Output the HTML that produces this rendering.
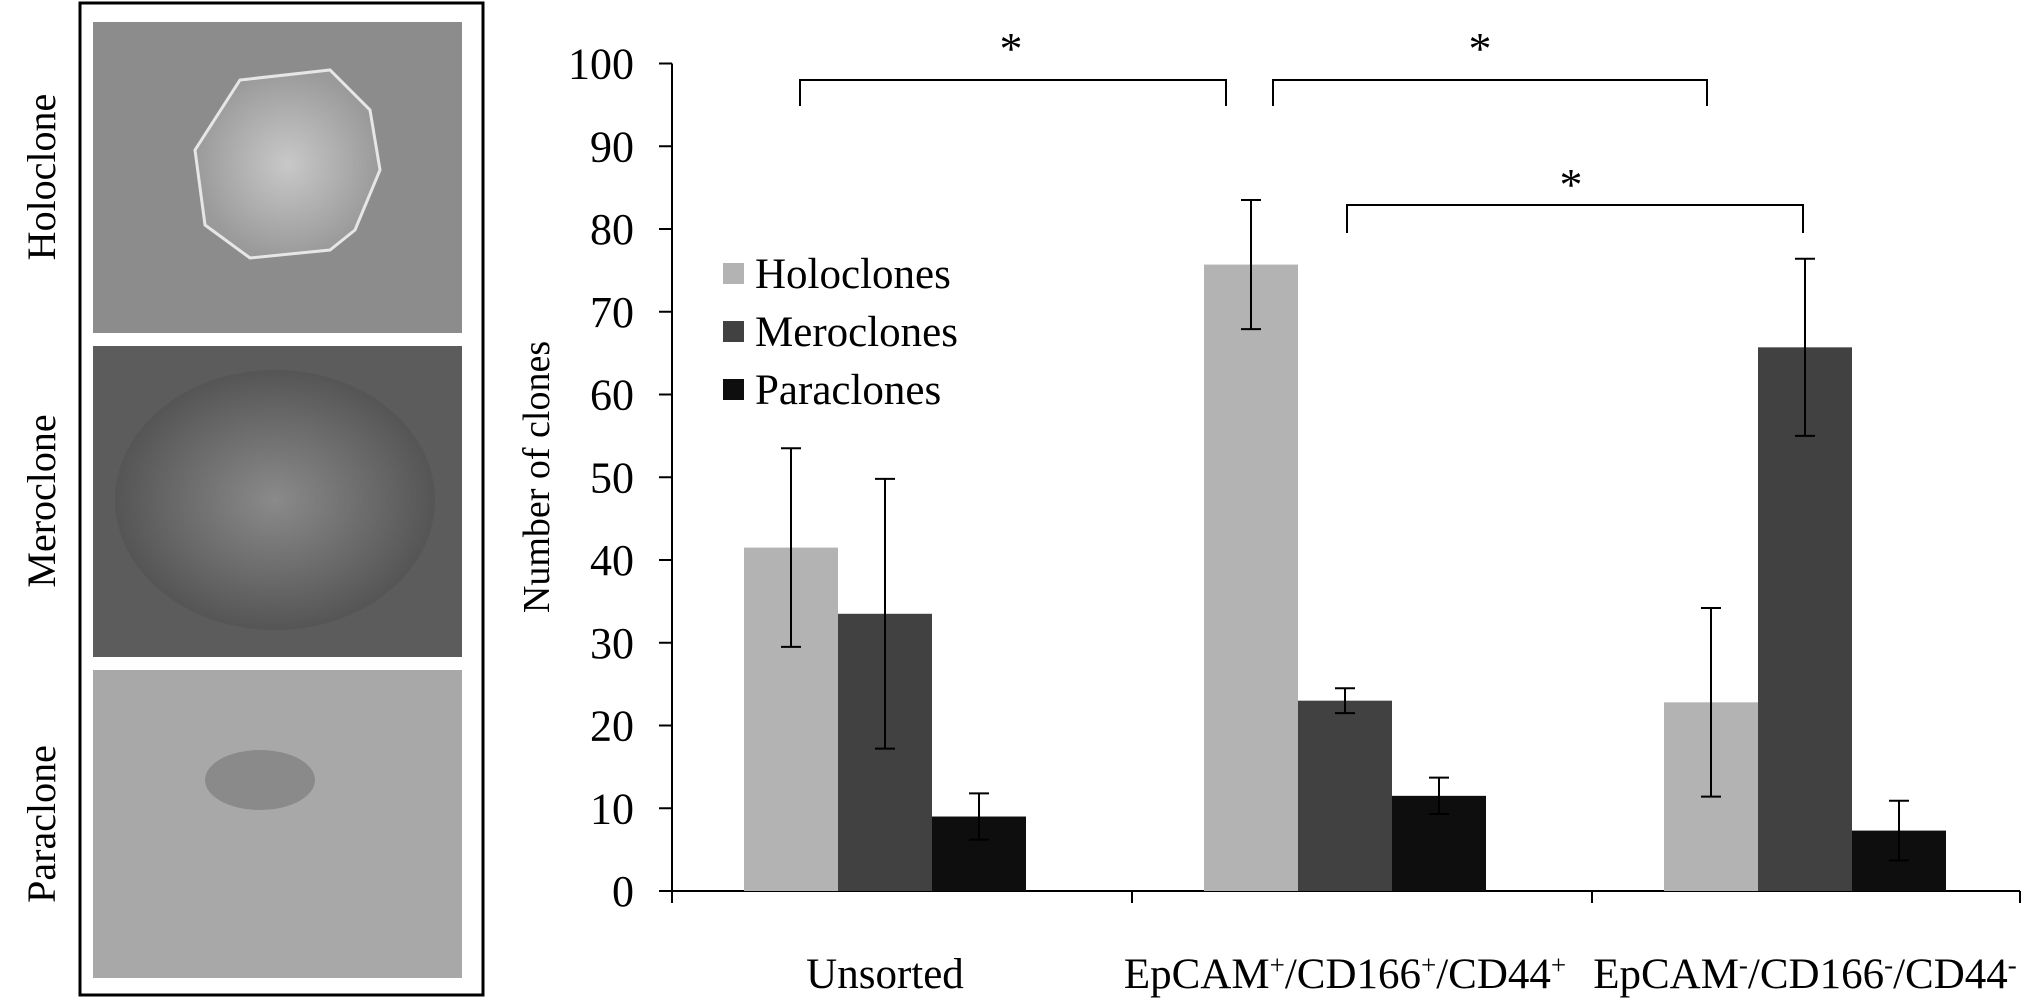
<!DOCTYPE html>
<html><head><meta charset="utf-8"><style>
body{margin:0;background:#fff;}
svg{display:block;font-family:"Liberation Serif",serif;}
</style></head><body>
<svg width="2031" height="1005" viewBox="0 0 2031 1005" xmlns="http://www.w3.org/2000/svg" id="root">
<defs>
<radialGradient id="g1" cx="50%" cy="50%" r="50%"><stop offset="0" stop-color="#c8c8c8"/><stop offset="1" stop-color="#9a9a9a"/></radialGradient>
<radialGradient id="g2" cx="50%" cy="50%" r="50%"><stop offset="0" stop-color="#8a8a8a"/><stop offset="1" stop-color="#555"/></radialGradient>
</defs>
<g>
<rect x="80" y="3" width="403" height="992" fill="#fff" stroke="#000" stroke-width="3"/>
<rect x="93" y="22" width="369" height="311" fill="#8c8c8c"/>
<polygon points="195,150 240,80 330,70 370,110 380,170 355,230 330,250 250,258 205,225" fill="url(#g1)" stroke="#e6e6e6" stroke-width="3"/>
<rect x="93" y="346" width="369" height="311" fill="#5c5c5c"/>
<ellipse cx="275" cy="500" rx="160" ry="130" fill="url(#g2)"/>
<rect x="93" y="670" width="369" height="308" fill="#a8a8a8"/>
<ellipse cx="260" cy="780" rx="55" ry="30" fill="#8a8a8a"/>
<text transform="translate(55,177) rotate(-90)" text-anchor="middle" font-size="40">Holoclone</text>
<text transform="translate(55,501) rotate(-90)" text-anchor="middle" font-size="40">Meroclone</text>
<text transform="translate(55,824) rotate(-90)" text-anchor="middle" font-size="40">Paraclone</text>
</g>
<g id="chart"></g>
</svg>
<script>
const categories = ["Unsorted", "EpCAM+/CD166+/CD44+", "EpCAM-/CD166-/CD44-"];
const seriesNames = ["Holoclones", "Meroclones", "Paraclones"];
const holoValues = [41.5, 75.7, 22.8];
const holoErr = [12, 7.8, 11.4];
const meroValues = [33.5, 23, 65.7];
const meroErr = [16.3, 1.5, 10.7];
const paraValues = [9, 11.5, 7.3];
const paraErr = [2.8, 2.2, 3.6];
const yTicks = [0,10,20,30,40,50,60,70,80,90,100];

const NS="http://www.w3.org/2000/svg";
const chart=document.getElementById('chart');
const X0=672, Y0=891, YT=63.5, CW=460, OFF=72, BW=94;
const y=v=>Y0-(v/100)*(Y0-YT);
const catX=i=>X0+i*CW;
const barX=(i,s)=>catX(i)+OFF+s*BW;
function mk(tag,attrs,parent){const e=document.createElementNS(NS,tag);for(const k in attrs)e.setAttribute(k,attrs[k]);(parent||chart).appendChild(e);return e;}
const colors=["#b3b3b3","#414141","#0e0e0e"];
const vals=[holoValues,meroValues,paraValues], errs=[holoErr,meroErr,paraErr];

let ax=mk('line',{x1:X0,y1:Y0,x2:X0,y2:YT,stroke:'#000','stroke-width':2});


let xa=mk('line',{x1:X0,y1:Y0,x2:2020,y2:Y0,stroke:'#000','stroke-width':2});


yTicks.forEach(t=>{
  const l=mk('line',{x1:X0-13,y1:y(t),x2:X0,y2:y(t),stroke:'#000','stroke-width':2});
  
  
  const tx=mk('text',{x:634,y:y(t)+15,'text-anchor':'end','font-size':44});
  tx.textContent=t;
  
  
});
for(let i=0;i<=3;i++){
  const xx=Math.min(catX(i),2020);
  const l=mk('line',{x1:xx,y1:Y0,x2:xx,y2:903,stroke:'#000','stroke-width':2});
  
  
}
const yt=mk('text',{transform:'translate(549,477) rotate(-90)','text-anchor':'middle','font-size':38});
yt.textContent='Number of clones';



const labelHTML=['Unsorted','EpCAM<tspan dy="-14" font-size="27">+</tspan><tspan dy="14">/CD166</tspan><tspan dy="-14" font-size="27">+</tspan><tspan dy="14">/CD44</tspan><tspan dy="-14" font-size="27">+</tspan>','EpCAM<tspan dy="-14" font-size="27">-</tspan><tspan dy="14">/CD166</tspan><tspan dy="-14" font-size="27">-</tspan><tspan dy="14">/CD44</tspan><tspan dy="-14" font-size="27">-</tspan>'];
categories.forEach((c,i)=>{
  const t=mk('text',{x:catX(i)+OFF+1.5*BW,y:988,'text-anchor':'middle','font-size':43});
  t.innerHTML=labelHTML[i];
  
  
});

categories.forEach((c,i)=>{
  vals.forEach((arr,s)=>{
    const v=arr[i], e=errs[s][i], x=barX(i,s);
    const r=mk('rect',{x:x,y:y(v),width:BW,height:Y0-y(v),fill:colors[s]});
    
    
    const cx=x+BW/2;
    const g=mk('path',{d:`M${cx},${y(v+e)}V${y(v-e)}M${cx-10},${y(v+e)}H${cx+10}M${cx-10},${y(v-e)}H${cx+10}`,stroke:'#000','stroke-width':2,fill:'none'});
    
    
  });
});

seriesNames.forEach((n,s)=>{
  const yy=273+s*58;
  const r=mk('rect',{x:723,y:yy-10,width:21,height:21,fill:colors[s]});
  
  
  const t=mk('text',{x:755,y:yy+15,'font-size':43});
  t.textContent=n;
  
  
});

const brackets=[[800,1226,80,106,1011,46],[1273,1707,80,106,1480,46],[1347,1803,205,233,1571,182]];
brackets.forEach(b=>{
  const p=mk('path',{d:`M${b[0]},${b[3]}V${b[2]}H${b[1]}V${b[3]}`,stroke:'#000','stroke-width':2,fill:'none'});
  
  
  const t=mk('text',{x:b[4],y:b[5]+18,'text-anchor':'middle','font-size':46});
  t.textContent='*';
  
  
});
</script>
</body></html>
